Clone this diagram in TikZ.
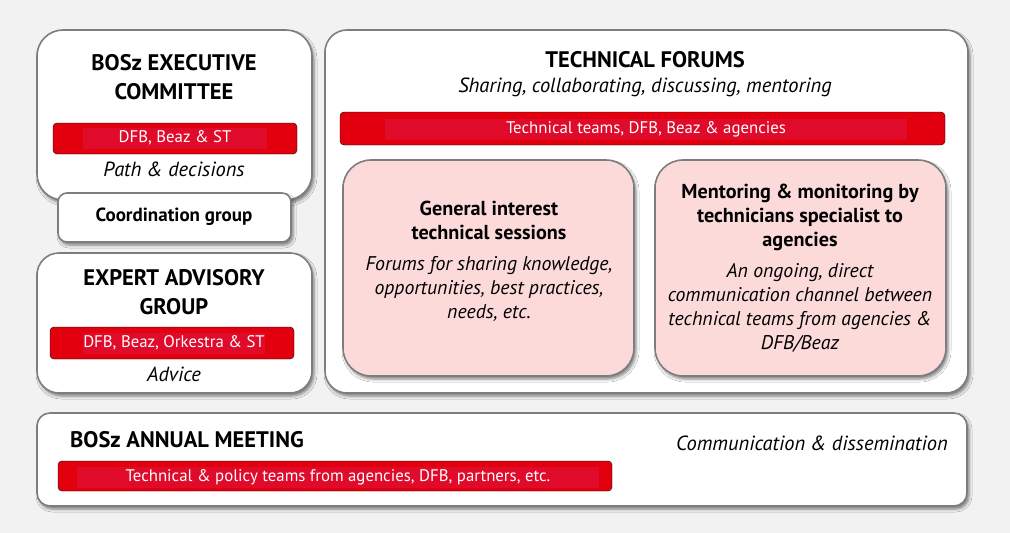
\documentclass[tikz,border=0pt]{standalone}
\usepackage{fontspec}
\setmainfont{PT Sans}
\usetikzlibrary{positioning, shadows.blur}

\definecolor{bgray}{RGB}{242,242,242}
\definecolor{edgegray}{RGB}{125,125,125}
\definecolor{barred}{RGB}{226,0,14}
\definecolor{labelred}{RGB}{224,10,42}
\definecolor{softpink}{RGB}{252,218,218}

\tikzset{
  panel/.style={draw=edgegray, line width=1.6pt, fill=white, rounded corners=#1,
    blur shadow={shadow xshift=2pt, shadow yshift=-3pt, shadow blur radius=3pt, shadow opacity=50}},
  panel/.default=20pt,
  redbar/.style={fill=barred, rounded corners=4pt},
  barlabel/.style={fill=labelred, text=white, inner sep=0pt, minimum height=21pt,
    font=\fontsize{16.8}{20}\selectfont},
  headtext/.style={inner sep=0pt, align=center, font=\fontsize{22.5}{29}\selectfont\bfseries},
  roletext/.style={inner sep=0pt, align=center, font=\fontsize{20.5}{24}\selectfont\itshape},
  grouptext/.style={inner sep=0pt, font=\fontsize{19}{22}\selectfont\bfseries},
  sessionhead/.style={inner sep=0pt, align=center, font=\fontsize{20.2}{24}\selectfont\bfseries},
  sessiontext/.style={inner sep=0pt, align=center, font=\fontsize{19.8}{24}\selectfont\itshape}
}

\begin{document}
\begin{tikzpicture}[x=1pt, y=-1pt]
  \fill[bgray] (0,0) rectangle (1010,533);

  % left column
  \draw[panel=26pt] (37,30) rectangle (312,200);
  \draw (174,77.5) node[headtext] (exechead) {BOSz EXECUTIVE\\COMMITTEE};
  \draw[redbar] (53,123) rectangle (297,154);
  \draw (175,138) node[barlabel, minimum width=184pt] (execbar) {DFB, Beaz \& ST};
  \draw (174,169) node[roletext] (execrole) {Path \& decisions};

  \draw[panel=9pt] (58,193) rectangle (291,242);
  \draw (174,217) node[grouptext] (coord) {Coordination group};

  \draw[panel=22pt] (37,253) rectangle (312,393);
  \draw (174,292.5) node[headtext] (experthead) {EXPERT ADVISORY\\GROUP};
  \draw[redbar] (50,327) rectangle (294,359);
  \draw (174,343) node[barlabel, minimum width=182pt] (expertbar) {DFB, Beaz, Orkestra \& ST};
  \draw (174,374) node[roletext] (expertrole) {Advice};

  % technical forums
  \draw[panel=22pt] (325,30) rectangle (968,393);
  \draw (645,60) node[headtext] (techhead) {TECHNICAL FORUMS};
  \draw (645,87) node[roletext] (techrole) {Sharing, collaborating, discussing, mentoring};
  \draw[redbar] (340,112) rectangle (945,145);
  \draw (646,129) node[barlabel, minimum width=522pt] (techbar) {Technical teams, DFB, Beaz \& agencies};

  \draw[panel=28pt, fill=softpink] (343,160) rectangle (634,376);
  \draw (489,220) node[sessionhead] (genhead) {General interest\\technical sessions};
  \draw (489,289) node[sessiontext] (gentext) {Forums for sharing knowledge,\\opportunities, best practices,\\needs, etc.};

  \draw[panel=28pt, fill=softpink] (655,160) rectangle (946,376);
  \draw (800,217) node[sessionhead] (menthead) {Mentoring \& monitoring by\\technicians specialist to\\agencies};
  \draw (800,308) node[sessiontext] (menttext) {An ongoing, direct\\communication channel between\\technical teams from agencies \&\\DFB/Beaz};

  % annual meeting
  \draw[panel=13pt] (37,413) rectangle (967,506);
  \draw (70,440) node[headtext, anchor=west] (annualhead) {BOSz ANNUAL MEETING};
  \draw (948,443) node[roletext, anchor=east] (annualrole) {Communication \& dissemination};
  \draw[redbar] (58,461) rectangle (612,491);
  \draw (338,477) node[barlabel, minimum width=522pt] (annualbar) {Technical \& policy teams from agencies, DFB, partners, etc.};
\end{tikzpicture}
\end{document}
